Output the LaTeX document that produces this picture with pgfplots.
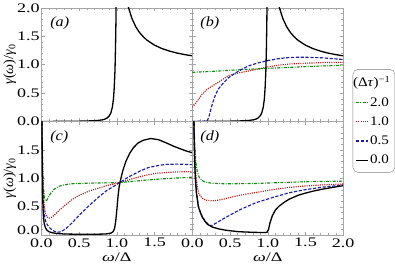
\documentclass[border=0pt]{standalone}
\usepackage{pgfplots}
\pgfplotsset{compat=1.18}
\usepgfplotslibrary{groupplots}
\usepackage{fontspec}
\setmainfont{Liberation Serif}
\newfontfamily\tickfont{Liberation Serif}[FakeStretch=1.38]
\newfontfamily\labfont{Liberation Serif}[FakeStretch=1.15]
\definecolor{cg}{RGB}{20,140,20}
\definecolor{cr}{RGB}{175,30,30}
\definecolor{cb}{RGB}{30,30,165}
\definecolor{fr}{RGB}{165,165,165}

\pgfplotstableread{
w v
0 0
0.3 0.002
0.5 0.005
0.6 0.008
0.7 0.013
0.75 0.018
0.8 0.027
0.84 0.04
0.87 0.06
0.9 0.10
0.92 0.15
0.94 0.25
0.955 0.4
0.965 0.6
0.975 0.9
0.982 1.3
0.988 1.8
0.993 2.6
1.1 2.4
1.12 2.22
1.15 2.02
1.2 1.81
1.25 1.667
1.3 1.565
1.35 1.49
1.4 1.429
1.5 1.342
1.6 1.281
1.7 1.237
1.8 1.203
1.9 1.176
2.0 1.155
}\blackab

\pgfplotstableread{
w v
0 0.865
0.25 0.88
0.5 0.9
0.75 0.918
1.0 0.935
1.25 0.95
1.5 0.965
1.75 0.978
2.0 0.99
}\greenb

\pgfplotstableread{
w v
0 0.25
0.05 0.33
0.13 0.48
0.2 0.57
0.31 0.66
0.4 0.74
0.49 0.81
0.6 0.85
0.75 0.89
0.9 0.93
1.0 0.96
1.14 0.99
1.28 1.01
1.5 1.025
1.72 1.035
2.0 1.04
}\redb

\pgfplotstableread{
w v
0 0.0
0.15 0.005
0.2 0.02
0.22 0.08
0.24 0.19
0.27 0.33
0.31 0.48
0.35 0.58
0.4 0.66
0.48 0.77
0.58 0.86
0.66 0.92
0.75 0.98
0.87 1.03
1.0 1.07
1.14 1.105
1.28 1.125
1.4 1.13
1.5 1.13
1.72 1.12
2.0 1.09
}\blueb

\pgfplotstableread{
w v
0.004 3.0
0.008 1.8
0.012 1.1
0.018 0.6
0.025 0.35
0.035 0.22
0.05 0.14
0.07 0.09
0.1 0.06
0.15 0.04
0.2 0.03
0.3 0.02
0.5 0.015
0.7 0.015
0.85 0.02
0.92 0.035
0.95 0.06
0.97 0.12
0.985 0.25
1.0 0.45
1.015 0.68
1.03 0.85
1.05 0.98
1.08 1.14
1.12 1.30
1.17 1.44
1.22 1.54
1.28 1.62
1.35 1.67
1.45 1.70
1.55 1.68
1.66 1.62
1.76 1.56
1.84 1.52
1.92 1.48
2.0 1.45
}\blackc

\pgfplotstableread{
w v
0.004 3.0
0.01 1.7
0.02 1.05
0.03 0.78
0.042 0.65
0.055 0.6
0.07 0.61
0.09 0.66
0.12 0.73
0.16 0.8
0.23 0.86
0.3 0.885
0.41 0.905
0.64 0.915
0.86 0.92
1.04 0.925
1.2 0.945
1.4 0.97
1.6 0.99
1.8 1.005
2.0 1.02
}\greenc

\pgfplotstableread{
w v
0.004 3.0
0.01 1.6
0.02 0.9
0.035 0.55
0.055 0.38
0.075 0.32
0.1 0.30
0.13 0.31
0.17 0.35
0.23 0.43
0.3 0.51
0.41 0.63
0.5 0.7
0.64 0.78
0.86 0.87
1.04 0.925
1.2 0.99
1.31 1.03
1.42 1.065
1.53 1.09
1.75 1.11
2.0 1.12
}\redc

\pgfplotstableread{
w v
0.004 3.0
0.01 1.5
0.02 0.75
0.035 0.38
0.06 0.22
0.1 0.14
0.15 0.08
0.21 0.05
0.26 0.06
0.32 0.11
0.41 0.22
0.5 0.35
0.64 0.53
0.75 0.66
0.86 0.78
1.04 0.925
1.15 1.02
1.31 1.13
1.42 1.19
1.53 1.22
1.65 1.245
1.8 1.25
2.0 1.24
}\bluec

\pgfplotstableread{
w v
0.015 3.0
0.02 2.0
0.03 1.33
0.04 1.0
0.055 0.73
0.08 0.5
0.1 0.42
0.13 0.32
0.17 0.24
0.2 0.19
0.27 0.14
0.35 0.11
0.45 0.085
0.62 0.06
0.8 0.05
0.95 0.045
0.99 0.05
1.01 0.1
1.03 0.22
1.06 0.34
1.1 0.44
1.15 0.51
1.22 0.58
1.28 0.63
1.4 0.70
1.5 0.74
1.62 0.78
1.73 0.81
1.86 0.84
2.0 0.87
}\blackd

\pgfplotstableread{
w v
0.015 3.0
0.02 2.3
0.03 1.65
0.045 1.3
0.065 1.12
0.09 1.02
0.13 0.96
0.18 0.93
0.25 0.915
0.4 0.905
0.62 0.905
0.85 0.91
1.06 0.92
1.3 0.93
1.5 0.94
1.75 0.945
2.0 0.95
}\greend

\pgfplotstableread{
w v
0.015 3.0
0.02 2.15
0.03 1.5
0.045 1.1
0.065 0.85
0.09 0.72
0.13 0.65
0.18 0.615
0.25 0.605
0.32 0.61
0.4 0.63
0.62 0.70
0.84 0.75
1.06 0.80
1.28 0.84
1.5 0.865
1.73 0.885
2.0 0.90
}\redd

\pgfplotstableread{
w v
0.015 3.0
0.02 2.05
0.03 1.38
0.04 1.03
0.055 0.76
0.08 0.52
0.1 0.43
0.13 0.33
0.17 0.25
0.2 0.205
0.23 0.175
0.25 0.165
0.3 0.2
0.4 0.28
0.62 0.44
0.84 0.57
1.06 0.66
1.28 0.745
1.5 0.80
1.73 0.845
2.0 0.88
}\blued

\pgfplotsset{
  gs/.style={cg, line width=1.15pt, dash pattern=on 3pt off 1.3pt on 0.9pt off 1.3pt},
  rs/.style={cr, line width=1.15pt, dash pattern=on 1.1pt off 1.1pt},
  bs/.style={cb, line width=1.15pt, dash pattern=on 3.2pt off 1.6pt},
  ks/.style={black, line width=1.3pt},
}

\begin{document}
\begin{tikzpicture}
\begin{groupplot}[
  group style={group size=2 by 2, horizontal sep=0pt, vertical sep=0pt},
  width=150pt, height=113pt, scale only axis,
  xmin=0, xmax=2, ymin=0, ymax=2,
  xtick={0,0.5,1,1.5,2}, ytick={0,0.5,1,1.5,2},
  minor xtick={0.1,0.2,0.3,0.4,0.6,0.7,0.8,0.9,1.1,1.2,1.3,1.4,1.6,1.7,1.8,1.9},
  minor ytick={0.1,0.2,0.3,0.4,0.6,0.7,0.8,0.9,1.1,1.2,1.3,1.4,1.6,1.7,1.8,1.9},
  xticklabels={}, yticklabels={},
  tick align=inside, major tick length=3.5pt, minor tick length=2pt,
  axis line style={fr, line width=0.5pt},
  every tick/.style={fr, line width=0.4pt},
  every minor tick/.style={fr, line width=0.3pt},
  tick label style={font=\tickfont\fontsize{13}{13}\selectfont},
  xticklabel style={inner ysep=2pt, yshift=-1pt},
  yticklabel style={inner xsep=1.5pt},
  xlabel style={font=\tickfont\fontsize{13}{13}\selectfont},
  ylabel style={font=\fontsize{14}{14}\selectfont},
  every axis plot/.append style={line join=round},
  legend cell align=left,
]
\nextgroupplot[yticklabels={0.0,0.5,1.0,1.5,2.0},
  ylabel={\textit{γ}(\textit{ω})/\textit{γ}\textsubscript{0}}, ylabel shift=-4pt]
\addplot[ks] table[x=w,y=v] {\blackab};
\node[anchor=north west, font=\labfont\fontsize{14}{14}\selectfont] at (rel axis cs:0.035,0.95) {\textit{(a)}};

\nextgroupplot[
  legend style={at={(1.063,0.005)}, anchor=west, draw=gray, rounded corners=5pt,
    font=\labfont\fontsize{13}{13}\selectfont, row sep=5pt, inner xsep=2.5pt, inner ysep=5pt},
  legend image code/.code={\draw[#1] plot coordinates {(0cm,0cm) (0.4cm,0cm)};},
]
\addlegendimage{empty legend}
\addlegendentry{\hspace{-6mm}(Δ\textit{τ})\textsuperscript{−1}}
\addplot[gs] table[x=w,y=v] {\greenb};
\addlegendentry{2.0}
\addplot[rs] table[x=w,y=v] {\redb};
\addlegendentry{1.0}
\addplot[bs] table[x=w,y=v] {\blueb};
\addlegendentry{0.5}
\addplot[ks] table[x=w,y=v] {\blackab};
\addlegendentry{0.0}
\node[anchor=north west, font=\labfont\fontsize{14}{14}\selectfont] at (rel axis cs:0.03,0.95) {\textit{(b)}};

\nextgroupplot[yticklabels={,0.5,1.0,1.5,}, xticklabels={0.0,0.5,1.0,1.5,},
  ylabel={\textit{γ}(\textit{ω})/\textit{γ}\textsubscript{0}}, ylabel shift=-4pt,
  xlabel={\textit{ω}/Δ}, extra y ticks={0}, extra y tick labels={0.0},
  extra y tick style={yticklabel style={yshift=5pt}}]
\addplot[gs] table[x=w,y=v] {\greenc};
\addplot[rs] table[x=w,y=v] {\redc};
\addplot[bs] table[x=w,y=v] {\bluec};
\addplot[ks] table[x=w,y=v] {\blackc};
\node[anchor=north west, font=\labfont\fontsize{14}{14}\selectfont] at (rel axis cs:0.035,0.95) {\textit{(c)}};

\nextgroupplot[xticklabels={0.0,0.5,1.0,1.5,2.0}, xlabel={\textit{ω}/Δ}]
\addplot[gs] table[x=w,y=v] {\greend};
\addplot[rs] table[x=w,y=v] {\redd};
\addplot[bs] table[x=w,y=v] {\blued};
\addplot[ks] table[x=w,y=v] {\blackd};
\node[anchor=north west, font=\labfont\fontsize{14}{14}\selectfont] at (rel axis cs:0.03,0.95) {\textit{(d)}};
\end{groupplot}
\end{tikzpicture}
\end{document}
